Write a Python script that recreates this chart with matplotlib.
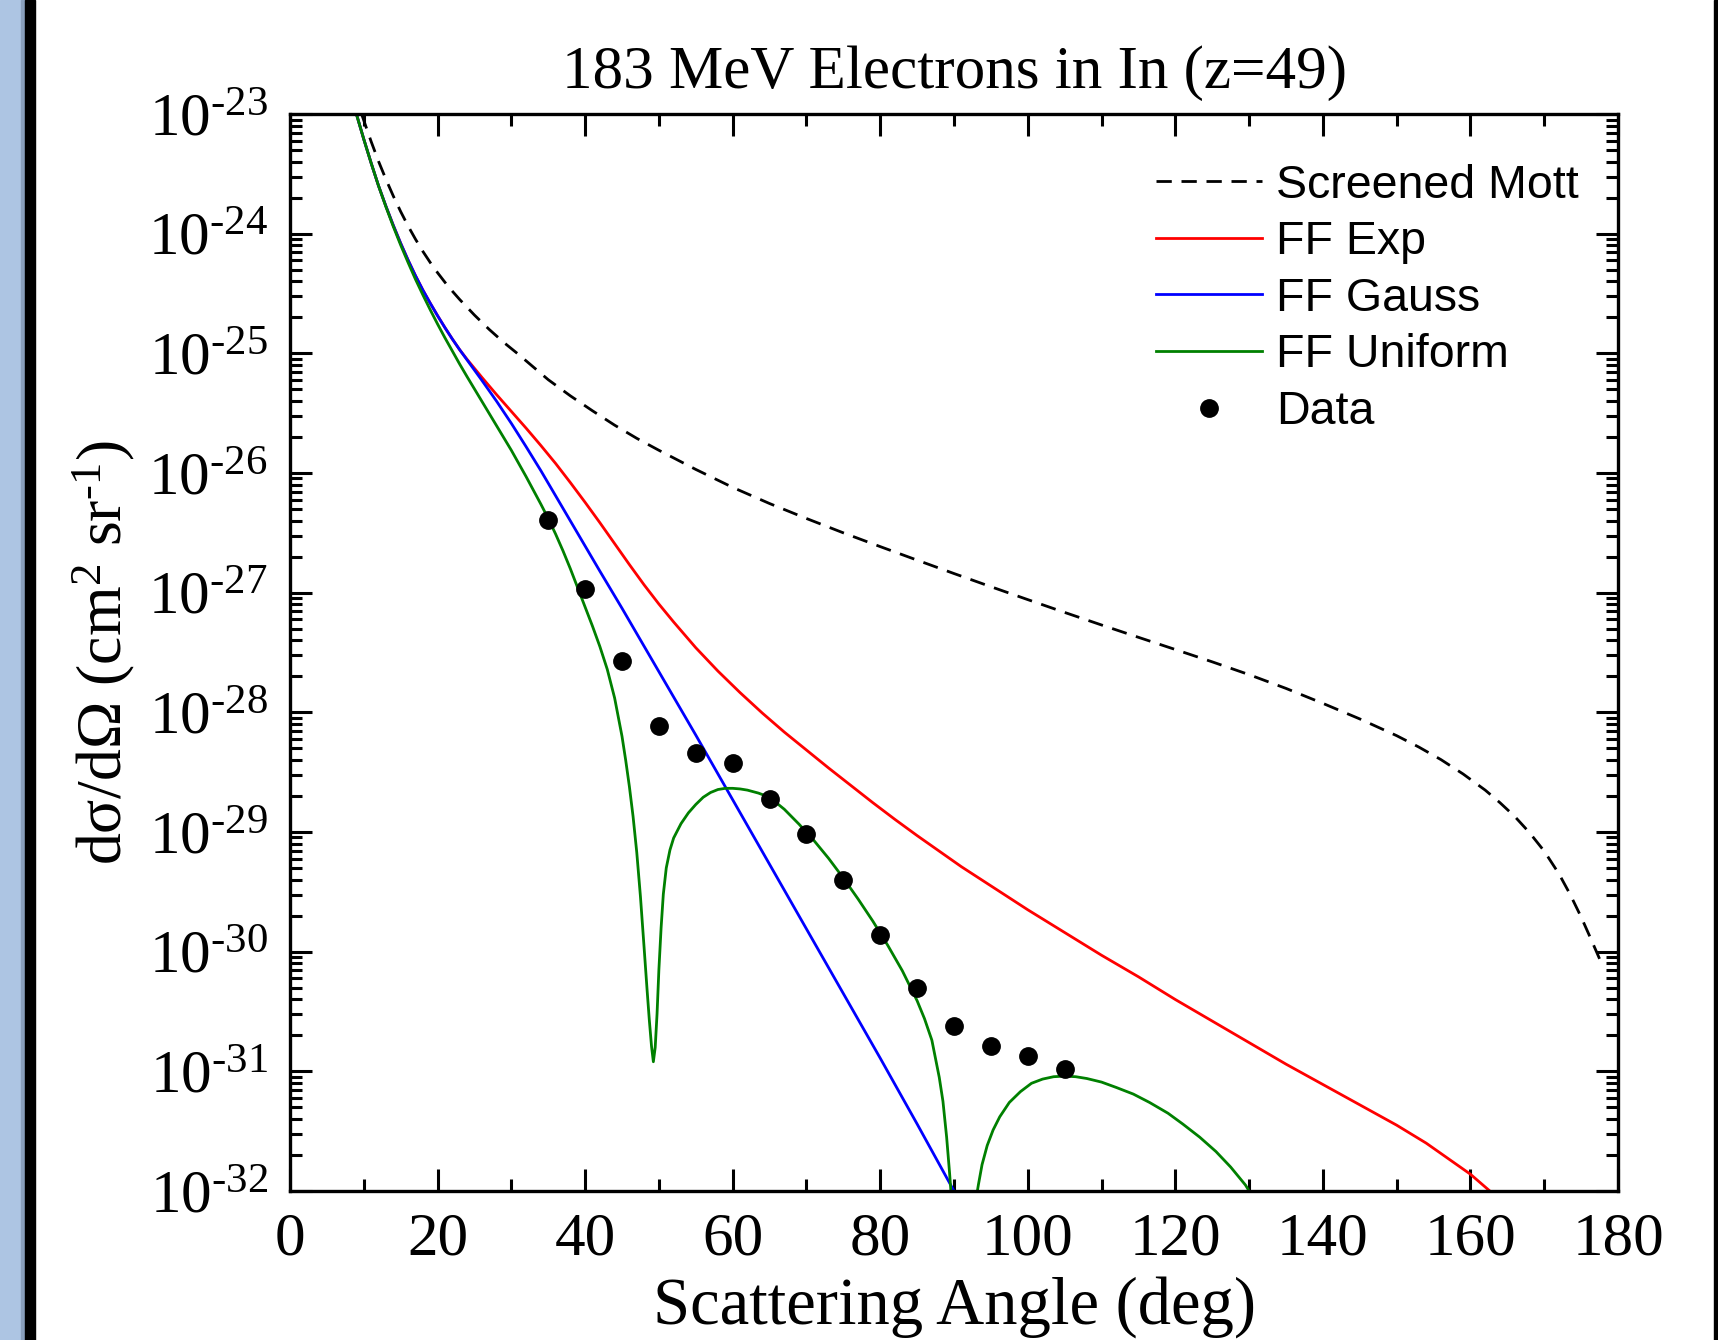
import numpy as np
import matplotlib.pyplot as plt
from matplotlib.patches import Rectangle
from matplotlib.ticker import LogLocator, NullFormatter

plt.rcParams['font.family'] = 'Liberation Serif'
plt.rcParams['mathtext.fontset'] = 'custom'
plt.rcParams['mathtext.rm'] = 'Liberation Serif'
plt.rcParams['mathtext.it'] = 'Liberation Serif:italic'
plt.rcParams['mathtext.default'] = 'regular'

# values (angle in deg, log10 of dsigma/dOmega in cm^2/sr)
mott_ang = [9.7, 11, 12, 13, 14, 15, 16, 17, 18, 19, 20, 21, 22, 23, 25, 27, 29, 31, 33, 35,
            38, 41, 44, 47, 50, 55, 60, 65, 70, 75, 80, 85, 90, 95, 100, 105, 110, 115, 120,
            125, 130, 135, 140, 145, 150, 153, 156, 159, 162, 164, 166, 168, 170, 172, 173.5,
            175, 176.3, 177.5]
mott_log = [-23.00, -23.23, -23.395, -23.545, -23.685, -23.815, -23.935, -24.045, -24.147,
            -24.24, -24.326, -24.406, -24.48, -24.55, -24.68, -24.80, -24.91, -25.01, -25.115,
            -25.22, -25.355, -25.48, -25.60, -25.71, -25.81, -25.97, -26.12, -26.255, -26.38,
            -26.50, -26.615, -26.728, -26.84, -26.95, -27.058, -27.165, -27.27, -27.373,
            -27.475, -27.578, -27.685, -27.80, -27.925, -28.055, -28.195, -28.29, -28.395,
            -28.515, -28.65, -28.755, -28.87, -29.005, -29.16, -29.35, -29.52, -29.71, -29.89,
            -30.06]

exp_ang = [9, 10, 11, 12, 13, 14, 15, 16, 17, 18, 19, 20, 21, 22, 23, 24, 26, 28, 30, 32, 34,
           36, 38, 40, 42, 44, 46, 48, 50, 52, 55, 58, 61, 64, 67, 70, 73, 76, 79, 82, 85, 88,
           91, 94, 97, 100, 105, 110, 115, 120, 125, 130, 135, 140, 145, 150, 154, 157, 160, 163]
exp_log = [-23.00, -23.21, -23.41, -23.60, -23.77, -23.93, -24.08, -24.22, -24.35, -24.47,
           -24.58, -24.685, -24.785, -24.88, -24.97, -25.05, -25.20, -25.345, -25.485, -25.625,
           -25.77, -25.92, -26.08, -26.245, -26.415, -26.59, -26.765, -26.935, -27.095, -27.245,
           -27.46, -27.655, -27.835, -28.005, -28.165, -28.315, -28.465, -28.61, -28.755,
           -28.895, -29.03, -29.16, -29.29, -29.41, -29.53, -29.65, -29.84, -30.03, -30.21,
           -30.40, -30.58, -30.76, -30.94, -31.11, -31.28, -31.45, -31.60, -31.73, -31.86,
           -32.02]

gauss_ang = [9, 10, 11, 12, 13, 14, 15, 16, 17, 18, 19, 20, 21, 22, 23, 24, 26, 28, 30, 32, 34,
             36, 38, 40, 42, 45, 50, 55, 60, 65, 70, 75, 80, 85, 90]
gauss_log = [-23.00, -23.21, -23.41, -23.60, -23.77, -23.93, -24.08, -24.22, -24.35, -24.47,
             -24.58, -24.685, -24.785, -24.88, -24.97, -25.055, -25.225, -25.40, -25.585,
             -25.78, -25.98, -26.19, -26.40, -26.61, -26.82, -27.13, -27.66, -28.19, -28.73,
             -29.27, -29.81, -30.35, -30.89, -31.44, -32.0]

unif_ang = [9, 10, 11, 12, 13, 14, 15, 16, 17, 18, 19, 20, 21, 22, 23, 24, 26, 28, 30, 32, 34,
            35, 36, 37, 38, 39, 40, 41, 42, 43, 44, 45, 45.5, 46, 46.5, 47, 47.5, 48, 48.4,
            48.7, 49.0, 49.25, 49.5, 49.75, 50.0, 50.3, 50.6, 51, 51.5, 52, 53, 54, 55, 56, 57,
            58, 59, 60, 61, 62, 63.5, 65, 67, 69, 71, 73, 75, 77, 79, 81, 83, 85, 86, 87, 88,
            88.5, 89.0, 89.4, 89.7]
unif_log = [-23.00, -23.21, -23.41, -23.60, -23.775, -23.94, -24.095, -24.24, -24.38, -24.51,
            -24.635, -24.755, -24.87, -24.98, -25.09, -25.195, -25.40, -25.605, -25.81, -26.03,
            -26.26, -26.38, -26.51, -26.65, -26.80, -26.96, -27.12, -27.28, -27.45, -27.64,
            -27.88, -28.20, -28.40, -28.62, -28.87, -29.17, -29.54, -29.97, -30.32, -30.57,
            -30.79, -30.92, -30.80, -30.52, -30.15, -29.80, -29.52, -29.30, -29.15, -29.05,
            -28.93, -28.84, -28.77, -28.71, -28.67, -28.645, -28.635, -28.635, -28.64, -28.65,
            -28.675, -28.71, -28.81, -28.935, -29.07, -29.22, -29.385, -29.56, -29.745,
            -29.945, -30.16, -30.41, -30.56, -30.74, -31.05, -31.25, -31.55, -31.85, -32.1]
unif2_ang = [92.9, 93.3, 93.8, 94.5, 95.3, 96.2, 97.5, 99, 100.5, 102, 103.5, 105, 106.5, 108,
             110, 112, 114.3, 116.5, 119, 121, 123.3, 125.5, 127.5, 129.5, 130.3]
unif2_log = [-32.1, -31.95, -31.78, -31.62, -31.49, -31.38, -31.26, -31.17, -31.10, -31.065,
             -31.045, -31.04, -31.045, -31.06, -31.09, -31.135, -31.19, -31.26, -31.35, -31.44,
             -31.55, -31.67, -31.80, -31.95, -32.03]

data_ang = [35, 40, 45, 50, 55, 60, 65, 70, 75, 80, 85, 90, 95, 100, 105]
data_log = [-26.39, -26.97, -27.57, -28.11, -28.34, -28.42, -28.72, -29.02, -29.40,
            -29.86, -30.30, -30.62, -30.79, -30.87, -30.98]

xticks = [0, 20, 40, 60, 80, 100, 120, 140, 160, 180]
yexps = [-23, -24, -25, -26, -27, -28, -29, -30, -31, -32]

fig = plt.figure(figsize=(17.18, 13.40), dpi=100)
ax = fig.add_axes([0.1688, 0.1112, 0.9418 - 0.1688, 0.9149 - 0.1112])

# window frame bits at the edges of the screenshot
fig.patches.append(Rectangle((0, 0), 0.0122, 1, transform=fig.transFigure, color='#adc5e3', zorder=-1))
fig.patches.append(Rectangle((0.0122, 0), 0.0024, 1, transform=fig.transFigure, color='#8aa0bd', zorder=-1))
fig.patches.append(Rectangle((0.0146, 0), 0.0058, 1, transform=fig.transFigure, color='black', zorder=-1))
fig.patches.append(Rectangle((0.9977, 0), 0.0023, 1, transform=fig.transFigure, color='black', zorder=-1))

ax.plot(mott_ang, 10.0 ** np.array(mott_log), color='black', lw=2.0, dashes=(5.5, 3.5),
        label='Screened Mott')
ax.plot(exp_ang, 10.0 ** np.array(exp_log), color='#ff0000', lw=2.0, label='FF Exp')
ax.plot(gauss_ang, 10.0 ** np.array(gauss_log), color='#0000ff', lw=2.0, label='FF Gauss')
ax.plot(unif_ang, 10.0 ** np.array(unif_log), color='#008000', lw=2.0, label='FF Uniform')
ax.plot(unif2_ang, 10.0 ** np.array(unif2_log), color='#008000', lw=2.0)
ax.plot(data_ang, 10.0 ** np.array(data_log), 'o', color='black', ms=12.5, label='Data')

ax.set_yscale('log')
ax.set_xlim(0, 180)
ax.set_ylim(1e-32, 1e-23)
ax.set_xticks(xticks)
ax.set_xticklabels([str(t) for t in xticks])
ax.set_xticks(np.arange(10, 180, 20), minor=True)
ax.set_yticks([10.0 ** e for e in yexps])
ax.set_yticklabels([r'$10^{\text{-}%d}$' % (-e) for e in yexps])
ax.yaxis.set_minor_locator(LogLocator(base=10, subs=np.arange(2, 10), numticks=20))
ax.yaxis.set_minor_formatter(NullFormatter())

ax.tick_params(which='both', direction='in', top=True, right=True, width=2.2, labelsize=44)
ax.tick_params(which='major', length=16)
ax.tick_params(which='minor', length=8.5)
ax.tick_params(axis='x', which='major', pad=15)
ax.tick_params(axis='y', which='major', pad=16)
for s in ax.spines.values():
    s.set_linewidth(2.4)

ax.set_title('183 MeV Electrons in In (z=49)', fontsize=44, pad=19)
ax.set_xlabel('Scattering Angle (deg)', fontsize=48, labelpad=6)
ax.set_ylabel('d\u03c3/d\u03a9 (cm$^{2}$ sr$^{\\text{-}1}$)', fontsize=46)
ax.yaxis.set_label_coords(-0.115, 0.5)

leg = ax.legend(loc='upper left', bbox_to_anchor=(0.652, 0.954), frameon=False,
                prop={'family': 'Liberation Sans', 'size': 33.5}, handlelength=2.29,
                handletextpad=0.287, labelspacing=0.27, borderpad=0, borderaxespad=0,
                numpoints=1)

fig.savefig('out.png', dpi=100)
